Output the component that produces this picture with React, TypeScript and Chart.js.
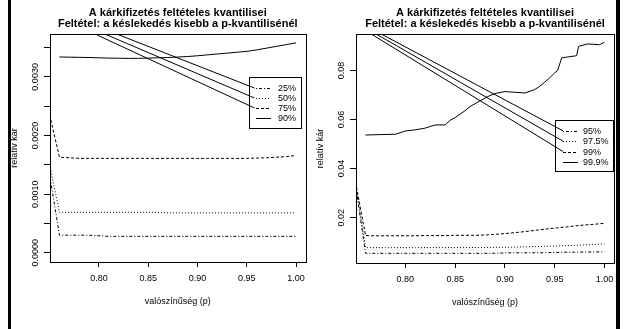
import { useEffect, useRef } from 'react';
import { Chart, registerables } from 'chart.js';

Chart.register(...registerables);

const FONT = "'Liberation Sans', Arial, Helvetica, sans-serif";

const TITLE1 = 'A kárkifizetés feltételes kvantilisei';
const TITLE2 = 'Feltétel: a késlekedés kisebb a p-kvantilisénél';
const X_TITLE = 'valószínűség (p)';
const Y_TITLE = 'relatív kár';

// probability grid
const pGrid = [0.76, 0.77, 0.78, 0.79, 0.80, 0.81, 0.82, 0.83, 0.84, 0.85, 0.86, 0.87, 0.88,
  0.89, 0.90, 0.91, 0.92, 0.93, 0.94, 0.95, 0.96, 0.97, 0.98, 0.99, 1.00];
const leadP = 0.75;

const xTicks = [0.80, 0.85, 0.90, 0.95, 1.00];

// ---- left panel ----
const leftLabels = ['25%', '50%', '75%', '90%'];
const leftYTicks = [0, 0.0005, 0.001, 0.0015, 0.002, 0.0025, 0.003, 0.0035];
const leftYLabelled = [0, 0.001, 0.002, 0.003];
const leftLead = [0.00133, 0.0015, 0.00235];
const q25 = [0.00030, 0.00030, 0.00030, 0.00030, 0.00029, 0.00028, 0.00028, 0.00028, 0.00028, 0.00028,
  0.00028, 0.00028, 0.00028, 0.00028, 0.00028, 0.00028, 0.00028, 0.00028, 0.00028, 0.00028,
  0.00028, 0.00028, 0.00028, 0.00028, 0.00028];
const q50 = [0.00069, 0.00069, 0.00069, 0.00069, 0.00069, 0.00069, 0.00069, 0.00069, 0.00069, 0.00069,
  0.00069, 0.00068, 0.00068, 0.00068, 0.00068, 0.00068, 0.00068, 0.00068, 0.00068, 0.00068,
  0.00068, 0.00068, 0.00068, 0.00068, 0.00068];
const q75 = [0.00163, 0.00162, 0.00161, 0.00161, 0.00161, 0.00161, 0.00161, 0.00161, 0.00161, 0.00161,
  0.00161, 0.00161, 0.00161, 0.00161, 0.00161, 0.00161, 0.00161, 0.00161, 0.00161, 0.00161,
  0.001615, 0.00162, 0.00163, 0.00164, 0.00166];
const q90 = [0.003339, 0.003336, 0.003333, 0.00333, 0.003325, 0.00332, 0.003318, 0.003315, 0.003316, 0.00332,
  0.003325, 0.00333, 0.003338, 0.003347, 0.00336, 0.003375, 0.00339, 0.003405, 0.00342, 0.003435,
  0.00346, 0.00349, 0.00352, 0.00355, 0.00358];
// straight strokes running into the legend keys: [x0, y0, x1, y1]
const leftStroke25 = [0.818, 0.003731, 0.9577, 0.002810];
const leftStroke50 = [0.806, 0.003731, 0.9577, 0.002640];
const leftStroke75 = [0.796, 0.003731, 0.9577, 0.002470];

// ---- right panel ----
const rightLabels = ['95%', '97.5%', '99%', '99.9%'];
const rightYTicks = [0.02, 0.04, 0.06, 0.08];
const rightYLabelled = [0.02, 0.04, 0.06, 0.08];
const rightLead = [0.0330, 0.0338, 0.0345];
const q95 = [0.00545, 0.00545, 0.00545, 0.00545, 0.00545, 0.00545, 0.00545, 0.00545, 0.00545, 0.00545,
  0.00545, 0.00545, 0.00545, 0.0055, 0.0056, 0.0057, 0.0057, 0.0057, 0.0057, 0.0058,
  0.0059, 0.0059, 0.0060, 0.0060, 0.0061];
const q975 = [0.00776, 0.00776, 0.00776, 0.00776, 0.00776, 0.00777, 0.00778, 0.00778, 0.00778, 0.00779,
  0.00779, 0.0078, 0.0078, 0.0079, 0.0079, 0.0080, 0.0081, 0.0082, 0.0083, 0.0084,
  0.0086, 0.0087, 0.0089, 0.0091, 0.0093];
const q99 = [0.01265, 0.0126, 0.0126, 0.0126, 0.0126, 0.0126, 0.0127, 0.0127, 0.0127, 0.0128,
  0.0128, 0.0128, 0.0129, 0.0132, 0.0135, 0.0139, 0.0143, 0.0148, 0.0153, 0.0157,
  0.0161, 0.0166, 0.0170, 0.0173, 0.0177];
const q999P = [0.76, 0.79, 0.80, 0.81, 0.82, 0.83, 0.84, 0.845, 0.85, 0.86, 0.865, 0.875, 0.883, 0.89,
  0.90, 0.91, 0.92, 0.93, 0.935, 0.94, 0.945, 0.95, 0.953, 0.957, 0.963, 0.972, 0.974, 0.983, 0.995, 1.0];
const q999 = [0.0537, 0.0540, 0.0553, 0.0558, 0.0565, 0.0578, 0.0578, 0.0597, 0.0608, 0.0636, 0.0653,
  0.0676, 0.0694, 0.0706, 0.0714, 0.0711, 0.0708, 0.0722, 0.0736, 0.0752, 0.0770, 0.0790, 0.0800,
  0.0851, 0.0855, 0.0860, 0.0898, 0.0908, 0.0905, 0.0915];
const rightStroke95 = [0.7757, 0.09486, 0.9583, 0.0554];
const rightStroke975 = [0.7706, 0.09486, 0.9583, 0.0512];
const rightStroke99 = [0.7656, 0.09486, 0.9583, 0.0470];

const DOTDASH = [1, 2, 3, 2];
const DOTTED = [1, 2];
const DASHED = [3, 2];
const SOLID: number[] = [];
const DASHES = [DOTDASH, DOTTED, DASHED, SOLID];

function series(xs: number[], ys: number[], lead?: number) {
  const pts = xs.map((x, i) => ({ x, y: ys[i] }));
  if (lead !== undefined) pts.unshift({ x: leadP, y: lead });
  return pts;
}
function stroke(s: number[]) {
  return [{ x: s[0], y: s[1] }, { x: s[2], y: s[3] }];
}
function ds(data: any[], dash: number[]) {
  return {
    data,
    borderColor: '#000',
    borderWidth: 1,
    borderDash: dash,
    pointRadius: 0,
    pointHoverRadius: 0,
    fill: false,
    tension: 0,
    clip: 0,
  };
}

type Panel = {
  datasets: any[];
  yMin: number;
  yMax: number;
  yTicks: number[];
  yLabelled: number[];
  yDigits: number;
  labels: string[];
  legend: { left: number; top: number; right: number; bottom: number; row0: number; rowGap: number; keyX0: number; keyX1: number; textX: number };
  yAxisWidth: number;
  xAxisHeight: number;
  padRight: number;
};

function makeDecor(p: Panel) {
  return {
    id: 'rDecor',
    afterDraw(chart: any) {
      const ctx = chart.ctx as CanvasRenderingContext2D;
      const a = chart.chartArea;
      const ys = chart.scales.y;
      const al = (v: number) => Math.round(v) + 0.5;
      ctx.save();
      ctx.strokeStyle = '#000';
      ctx.fillStyle = '#000';
      ctx.lineWidth = 1;
      ctx.setLineDash([]);
      // plot box
      ctx.strokeRect(al(a.left), al(a.top), Math.round(a.right) - Math.round(a.left), Math.round(a.bottom) - Math.round(a.top));
      // titles
      const cx = (a.left + a.right) / 2;
      ctx.font = `bold 11px ${FONT}`;
      ctx.textAlign = 'center';
      ctx.textBaseline = 'alphabetic';
      ctx.fillText(TITLE1, cx, 16);
      ctx.fillText(TITLE2, cx, 27);
      // y tick labels (parallel to axis)
      ctx.font = `9px ${FONT}`;
      ctx.textBaseline = 'middle';
      for (const v of p.yLabelled) {
        const y = ys.getPixelForValue(v);
        ctx.save();
        ctx.translate(a.left - 14, y);
        ctx.rotate(-Math.PI / 2);
        ctx.fillText(v.toFixed(p.yDigits), 0, 0);
        ctx.restore();
      }
      // axis titles
      ctx.save();
      ctx.translate(a.left - 35, (a.top + a.bottom) / 2);
      ctx.rotate(-Math.PI / 2);
      ctx.fillText(Y_TITLE, 0, 0);
      ctx.restore();
      ctx.fillText(X_TITLE, cx, a.bottom + 40);
      // legend
      const L = p.legend;
      ctx.strokeRect(al(L.left), al(L.top), Math.round(L.right - L.left), Math.round(L.bottom - L.top));
      ctx.textAlign = 'left';
      p.labels.forEach((lab, i) => {
        const y = L.row0 + i * L.rowGap;
        ctx.setLineDash(DASHES[i]);
        ctx.beginPath();
        ctx.moveTo(L.keyX0, Math.round(y) + 0.5);
        ctx.lineTo(L.keyX1, Math.round(y) + 0.5);
        ctx.stroke();
        ctx.setLineDash([]);
        ctx.fillText(lab, L.textX, y + 0.5);
      });
      ctx.restore();
    },
  };
}

function makeConfig(p: Panel): any {
  return {
    type: 'line',
    data: { datasets: p.datasets },
    options: {
      animation: false,
      responsive: false,
      devicePixelRatio: 1,
      events: [],
      layout: { padding: { top: 34, left: 0, right: p.padRight, bottom: 0 } },
      plugins: { legend: { display: false }, title: { display: false }, tooltip: { enabled: false } },
      scales: {
        x: {
          type: 'linear',
          min: 0.7504,
          max: 1.0096,
          afterBuildTicks: (s: any) => { s.ticks = xTicks.map((v) => ({ value: v })); },
          afterFit: (s: any) => { s.height = p.xAxisHeight; },
          grid: { drawOnChartArea: false, drawTicks: true, tickLength: 5, color: '#000', tickColor: '#000' },
          border: { display: false },
          ticks: {
            color: '#000',
            font: { family: FONT, size: 9 },
            padding: 6,
            maxRotation: 0,
            minRotation: 0,
            callback: (v: any) => Number(v).toFixed(2),
          },
        },
        y: {
          type: 'linear',
          min: p.yMin,
          max: p.yMax,
          afterBuildTicks: (s: any) => { s.ticks = p.yTicks.map((v) => ({ value: v })); },
          afterFit: (s: any) => { s.width = p.yAxisWidth; },
          grid: { drawOnChartArea: false, drawTicks: true, tickLength: 6, color: '#000', tickColor: '#000' },
          border: { display: false },
          ticks: { display: false },
        },
      },
    },
    plugins: [makeDecor(p)],
  };
}

const leftPanel: Panel = {
  datasets: [
    ds(series(pGrid, q25, leftLead[0]), DOTDASH),
    ds(series(pGrid, q50, leftLead[1]), DOTTED),
    ds(series(pGrid, q75, leftLead[2]), DASHED),
    ds(series(pGrid, q90), SOLID),
    ds(stroke(leftStroke25), SOLID),
    ds(stroke(leftStroke50), SOLID),
    ds(stroke(leftStroke75), SOLID),
  ],
  yMin: -0.000157,
  yMax: 0.003731,
  yTicks: leftYTicks,
  yLabelled: leftYLabelled,
  yDigits: 4,
  labels: leftLabels,
  legend: { left: 249, top: 77, right: 301, bottom: 128, row0: 88, rowGap: 10, keyX0: 256, keyX1: 271, textX: 278 },
  yAxisWidth: 50,
  xAxisHeight: 67,
  padRight: 4,
};

const rightPanel: Panel = {
  datasets: [
    ds(series(pGrid, q95, rightLead[0]), DOTDASH),
    ds(series(pGrid, q975, rightLead[1]), DOTTED),
    ds(series(pGrid, q99, rightLead[2]), DASHED),
    ds(series(q999P, q999), SOLID),
    ds(stroke(rightStroke95), SOLID),
    ds(stroke(rightStroke975), SOLID),
    ds(stroke(rightStroke99), SOLID),
  ],
  yMin: 0.00151,
  yMax: 0.09486,
  yTicks: rightYTicks,
  yLabelled: rightYLabelled,
  yDigits: 2,
  labels: rightLabels,
  legend: { left: 244, top: 120, right: 302, bottom: 171, row0: 131, rowGap: 10.3, keyX0: 252, keyX1: 267, textX: 272 },
  yAxisWidth: 45,
  xAxisHeight: 66,
  padRight: 9,
};

function PanelCanvas({ panel, left, width }: { panel: Panel; left: number; width: number }) {
  const ref = useRef<HTMLCanvasElement | null>(null);
  useEffect(() => {
    if (!ref.current) return;
    const chart = new Chart(ref.current, makeConfig(panel));
    return () => chart.destroy();
  }, [panel]);
  return (
    <canvas
      ref={ref}
      width={width}
      height={329}
      style={{ position: 'absolute', left, top: 0, width, height: 329 }}
    />
  );
}

export default function App() {
  return (
    <div style={{ position: 'absolute', left: 0, top: 0, width: 623, height: 329, background: '#fff', overflow: 'hidden' }}>
      <PanelCanvas panel={leftPanel} left={0} width={311} />
      <PanelCanvas panel={rightPanel} left={311} width={312} />
      <div style={{ position: 'absolute', left: 8, top: 0, width: 3, height: 329, background: '#000' }} />
      <div style={{ position: 'absolute', left: 616, top: 0, width: 4, height: 329, background: '#000' }} />
    </div>
  );
}
